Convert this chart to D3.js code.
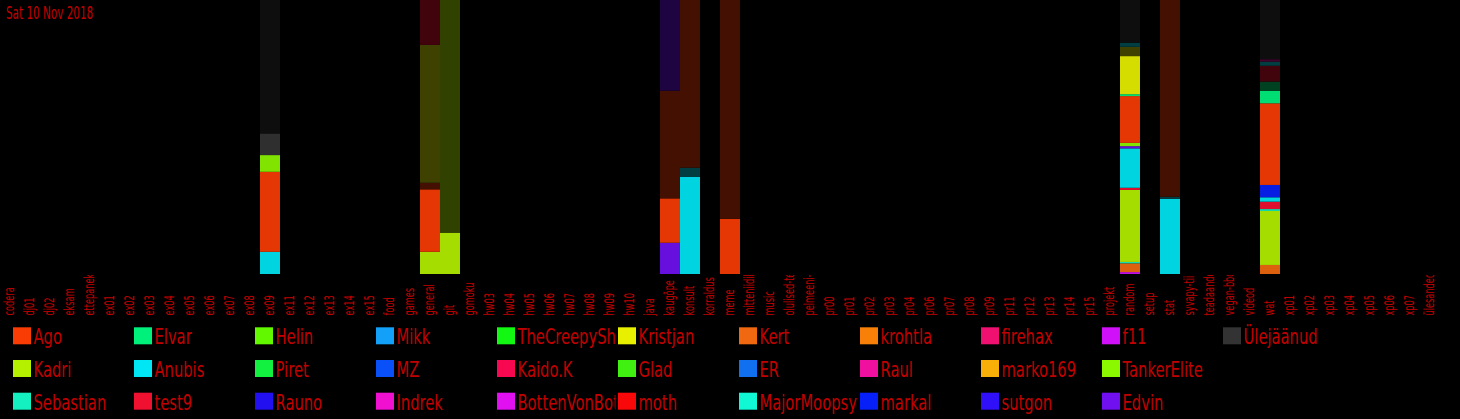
<!DOCTYPE html>
<html><head><meta charset="utf-8">
<script src="https://cdn.jsdelivr.net/npm/d3@7"></script>
<style>
html,body{margin:0;padding:0;background:#000;}
svg{display:block;}
text{font-family:"DejaVu Sans",sans-serif;}
</style></head>
<body>
<svg id="chart" width="1460" height="419"></svg>
<script>
const title = "Sat 10 Nov 2018";
const categories = ["codera","dj01","dj02","eksam","ettepanek","ex01","ex02","ex03","ex04","ex05","ex06","ex07","ex08","ex09","ex11","ex12","ex13","ex14","ex15","food","games","general","git","gomoku","hw03","hw04","hw05","hw06","hw07","hw08","hw09","hw10","java","kaugõpe","konsult","korraldus","meme","mitteniidiline","music","olulised-teated","pelmeeni-klubi","pr00","pr01","pr02","pr03","pr04","pr06","pr07","pr08","pr09","pr11","pr12","pr13","pr14","pr15","projekt","random","setup","stat","syvapy-tiim","teadaanded","vegan-bbq","videod","wat","xp01","xp02","xp03","xp04","xp05","xp06","xp07","ülesanded"];
const users = ["Ago","Kadri","Sebastian","Elvar","Anubis","test9","Helin","Piret","Rauno","Mikk","MZ","Indrek","TheCreepySh","Kaido.K","BottenVonBot","Kristjan","Glad","moth","Kert","ER","MajorMoopsy","krohtla","Raul","markal","firehax","marko169","sutgon","f11","TankerElite","Edvin","Ülejäänud"];
const userColors = ["#f83c04","#b4f000","#14f0c0","#00f07c","#00e6f4","#f01030","#62f800","#12f040","#2210f0","#12a0f8","#0a50f8","#f010d0","#12f812","#f80850","#e010f0","#e8f000","#40f010","#f80808","#f06810","#1070f0","#10f8d4","#f88008","#f010a0","#0820f8","#f01070","#f8b008","#3010f8","#d010f8","#8cf800","#7010f0","#333333"];

// stacked shares per channel, bottom-up: [user, period ("now" = bright, "old" = dimmed), percent]
const stack_ex09 = [["Anubis","now",8.1],["Ago","now",29.2],["TankerElite","now",6.1],["Ülejäänud","now",7.9],["Ülejäänud","old",48.7]];
const stack_general = [["Kadri","now",8.1],["Ago","now",22.8],["Ago","old",2.4],["Kristjan","old",50.3],["test9","old",16.4]];
const stack_git = [["Kadri","now",15.1],["Kadri","old",84.9]];
const stack_kaugope = [["Edvin","now",11.4],["Ago","now",16.2],["Ago","old",39.3],["Edvin","old",33.1]];
const stack_konsult = [["Anubis","now",35.5],["Anubis","old",3.3],["Ago","old",61.2]];
const stack_meme = [["Ago","now",20.1],["Ago","old",79.9]];
const stack_random = [["f11","now",0.7],["Kert","now",3.2],["Sebastian","now",0.5],["Kadri","now",26.3],["test9","now",0.8],["Anubis","now",14.4],["Edvin","now",0.8],["TankerElite","now",1.2],["Ago","now",17.1],["Elvar","now",0.7],["Kristjan","now",13.9],["Kristjan","old",3.4],["Anubis","old",1.5],["Ülejäänud","old",15.6]];
const stack_stat = [["Anubis","now",27.4],["Anubis","old",0.8],["Ago","old",71.8]];
const stack_wat = [["Kert","now",3.3],["Kadri","now",19.7],["Sebastian","now",0.7],["test9","now",2.7],["Anubis","now",1.6],["markal","now",4.5],["Ago","now",29.8],["Elvar","now",4.6],["Elvar","old",3.3],["test9","old",5.8],["Anubis","old",1.5],["Raul","old",0.9],["Ülejäänud","old",21.6]];

const stacks = new Map([
  ["ex09", stack_ex09], ["general", stack_general], ["git", stack_git],
  ["kaugõpe", stack_kaugope], ["konsult", stack_konsult], ["meme", stack_meme],
  ["random", stack_random], ["stat", stack_stat], ["wat", stack_wat]
]);

const svg = d3.select("#chart");
const W = 1460, H = 419;
svg.append("rect").attr("width", W).attr("height", H).attr("fill", "#000");
const defs = svg.append("defs");

const plotBottom = 274;
const x = d3.scaleBand().domain(categories).range([0, 1440]).padding(0);
const y = d3.scaleLinear().domain([0, 100]).range([plotBottom, 0]);
const color = d3.scaleOrdinal().domain(users).range(userColors);
const shade = (c, k) => { const r = d3.rgb(c); return d3.rgb(r.r * k, r.g * k, r.b * k).toString(); };

const textColor = "#c20000";

// bars
const rows = [];
stacks.forEach((segs, cat) => {
  const total = d3.sum(segs, d => d[2]);
  let acc = 0;
  segs.forEach(([u, p, v]) => {
    const v0 = acc / total * 100; acc += v; const v1 = acc / total * 100;
    rows.push({cat, u, p, v0, v1});
  });
});
svg.append("g").selectAll("rect").data(rows).join("rect")
  .attr("x", d => x(d.cat))
  .attr("width", x.bandwidth())
  .attr("y", d => y(d.v1))
  .attr("height", d => y(d.v0) - y(d.v1))
  .attr("fill", d => d.p === "now" ? shade(color(d.u), 0.92) : shade(color(d.u), 0.27));

// axis labels (clipped to the label strip)
defs.append("clipPath").attr("id", "labclip").append("rect")
  .attr("x", 0).attr("y", 275).attr("width", W).attr("height", 42);
const wrap = svg.append("g").attr("clip-path", "url(#labclip)");
const axisG = wrap.append("g").attr("transform", `translate(0,${plotBottom})`)
  .call(d3.axisBottom(x).tickSize(0).tickPadding(0));
axisG.select(".domain").remove();
axisG.attr("font-family", null).attr("font-size", null);
axisG.selectAll("text")
  .attr("fill", textColor)
  .attr("font-size", 13.5)
  .attr("text-anchor", "start")
  .attr("dy", null)
  .attr("y", 0)
  .attr("transform", "translate(3.5,41.5) rotate(-90) scale(0.61,1)");

// title
svg.append("text").attr("transform", "translate(6,19.3) scale(0.58,1)")
  .attr("fill", textColor).attr("font-size", 18).text(title);

// legend
const colW = 121.0, rowH = 32.7, lx0 = 13, ly0 = 327.3;
const leg = svg.append("g");
users.forEach((u, i) => {
  const col = Math.floor(i / 3), row = i % 3;
  const gx = lx0 + col * colW, gy = ly0 + row * rowH;
  const cid = "lc" + i;
  defs.append("clipPath").attr("id", cid).append("rect")
    .attr("x", gx).attr("y", gy - 10).attr("width", colW - 2.5).attr("height", 40);
  const g = leg.append("g").attr("clip-path", `url(#${cid})`);
  g.append("rect").attr("x", gx).attr("y", gy).attr("width", 18).attr("height", 17).attr("fill", color(u));
  g.append("text").attr("transform", `translate(${gx + 20.5},${gy + 17}) scale(0.67,1)`)
    .attr("fill", textColor).attr("font-size", 22).text(u);
});
</script>
</body></html>
